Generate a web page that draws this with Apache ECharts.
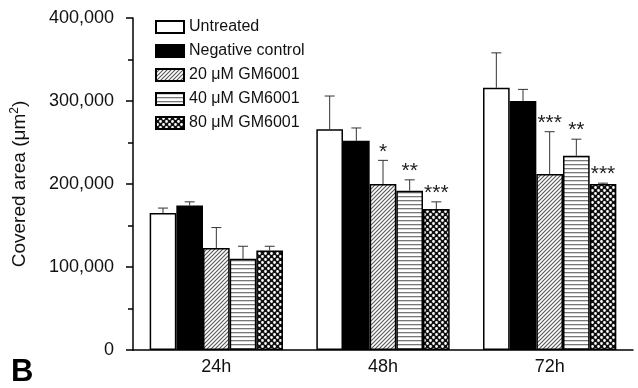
<!DOCTYPE html>
<html>
<head>
<meta charset="utf-8">
<script src="https://cdn.jsdelivr.net/npm/echarts@6/dist/echarts.min.js"></script>
<style>
  html, body { margin: 0; padding: 0; background: #fff; }
  #chart { width: 638px; height: 388px; }
</style>
</head>
<body>
<div id="chart"></div>
<script>
const categories = ['24h', '48h', '72h']
const seriesNames = ['Untreated', 'Negative control', '20 \u03bcM GM6001', '40 \u03bcM GM6001', '80 \u03bcM GM6001']

// bar heights
const untreated = [165000, 266000, 316000]
const negControl = [174000, 252000, 300000]
const gm20 = [123000, 200000, 212000]
const gm40 = [110000, 192000, 234000]
const gm80 = [120000, 170000, 200000]

// upper error (SD)
const untreatedErr = [6000, 40000, 42000]
const negControlErr = [4500, 15500, 14000]
const gm20Err = [24500, 28500, 51000]
const gm40Err = [15000, 13000, 20000]
const gm80Err = [5000, 8500, 1000]

// significance marks
const untreatedSig = ['', '', '']
const negControlSig = ['', '', '']
const gm20Sig = ['', '*', '***']
const gm40Sig = ['', '**', '**']
const gm80Sig = ['', '***', '***']

const values = [untreated, negControl, gm20, gm40, gm80]
const errors = [untreatedErr, negControlErr, gm20Err, gm40Err, gm80Err]
const sigs = [untreatedSig, negControlSig, gm20Sig, gm40Sig, gm80Sig]

const FONT = '"Liberation Sans", Arial, sans-serif'

function makeTile(w, h, draw) {
  const c = document.createElement('canvas')
  c.width = w
  c.height = h
  draw(c.getContext('2d'))
  return { image: c, repeat: 'repeat' }
}

// diagonal hatch ////
const hatchFill = makeTile(4, 4, ctx => {
  ctx.fillStyle = '#fff'
  ctx.fillRect(0, 0, 4, 4)
  ctx.strokeStyle = '#555'
  ctx.lineWidth = 1.1
  ctx.beginPath()
  ctx.moveTo(-1, 5); ctx.lineTo(5, -1)
  ctx.moveTo(-1, 1); ctx.lineTo(1, -1)
  ctx.moveTo(3, 5); ctx.lineTo(5, 3)
  ctx.stroke()
})
// horizontal lines
const lineFill = makeTile(4, 4, ctx => {
  ctx.fillStyle = '#fff'
  ctx.fillRect(0, 0, 4, 4)
  ctx.fillStyle = '#777'
  ctx.fillRect(0, 0, 4, 1.3)
})
// cross hatch with white holes
const crossFill = makeTile(6, 6, ctx => {
  ctx.fillStyle = '#111'
  ctx.fillRect(0, 0, 6, 6)
  ctx.fillStyle = '#fff'
  ctx.beginPath()
  ctx.arc(1.5, 1.5, 1.4, 0, Math.PI * 2)
  ctx.arc(4.5, 4.5, 1.4, 0, Math.PI * 2)
  ctx.fill()
})

const fills = ['#fff', '#000', hatchFill, lineFill, crossFill]

const myChart = echarts.init(document.getElementById('chart'))

let series = []
seriesNames.forEach((name, i) => {
  series.push({
    name: name,
    type: 'bar',
    barGap: 0,
    barCategoryGap: '20%',
    data: values[i],
    itemStyle: {
      color: fills[i],
      borderColor: '#000',
      borderWidth: 1.5
    },
    z: 2
  })
})
seriesNames.forEach((name, i) => {
  series.push({
    type: 'custom',
    name: name + ' err',
    data: values[i].map((v, k) => [k, v, errors[i][k]]),
    z: 3,
    renderItem: function(params, api) {
      const k = api.value(0)
      const base = api.coord([k, api.value(1)])
      const top = api.coord([k, api.value(1) + api.value(2)])
      const band = api.size([1, 0])[0]
      const barW = band * 0.8 / 5
      const x = base[0] + (i - 2) * barW
      const sig = sigs[i][params.dataIndex]
      const children = [
        { type: 'line', shape: { x1: x, y1: base[1], x2: x, y2: top[1] }, style: { stroke: '#333', lineWidth: 1 } },
        { type: 'line', shape: { x1: x - 5, y1: top[1], x2: x + 5, y2: top[1] }, style: { stroke: '#333', lineWidth: 1 } }
      ]
      if (sig) {
        children.push({
          type: 'text',
          style: {
            text: sig, x: x, y: top[1] - 19,
            align: 'center', verticalAlign: 'top',
            font: '21px ' + FONT, fill: '#222'
          }
        })
      }
      return { type: 'group', children: children }
    }
  })
})

let option = {
  animation: false,
  backgroundColor: '#fff',
  textStyle: { fontFamily: FONT },
  grid: { left: 133, right: 5, top: 18, bottom: 38 },
  legend: {
    data: seriesNames,
    orient: 'vertical',
    left: 150,
    top: 14,
    icon: 'rect',
    itemWidth: 28,
    itemHeight: 12,
    itemGap: 8,
    textStyle: { fontSize: 16, color: '#111', fontFamily: FONT }
  },
  xAxis: {
    type: 'category',
    data: categories,
    axisLine: { lineStyle: { color: '#000', width: 1.5 } },
    axisTick: { alignWithLabel: true, length: 5, lineStyle: { color: '#000', width: 1.5 } },
    axisLabel: { fontSize: 18, color: '#111', margin: 8 }
  },
  yAxis: {
    type: 'value',
    min: 0,
    max: 400000,
    interval: 100000,
    name: '{a|Covered area (\u03bcm}{s|2}{a|)}',
    nameLocation: 'middle',
    nameGap: 103,
    nameTextStyle: {
      rich: {
        a: { fontSize: 19, color: '#111', fontFamily: FONT },
        s: { fontSize: 12, color: '#111', fontFamily: FONT, verticalAlign: 'top', padding: [0, 0, 9, 0] }
      }
    },
    axisLine: { show: true, lineStyle: { color: '#000', width: 1.5 } },
    axisTick: { show: true, length: 7, lineStyle: { color: '#000', width: 1.5 } },
    minorTick: { show: true, splitNumber: 2, length: 5, lineStyle: { color: '#000', width: 1.5 } },
    splitLine: { show: false },
    axisLabel: {
      fontSize: 18,
      color: '#111',
      margin: 19,
      formatter: v => v.toLocaleString('en-US')
    }
  },
  graphic: [
    {
      type: 'text',
      left: 11,
      top: 357,
      style: { text: 'B', font: 'bold 31px ' + FONT, fill: '#000' }
    }
  ],
  series: series
}

myChart.setOption(option)
window.onresize = myChart.resize
</script>
</body>
</html>
